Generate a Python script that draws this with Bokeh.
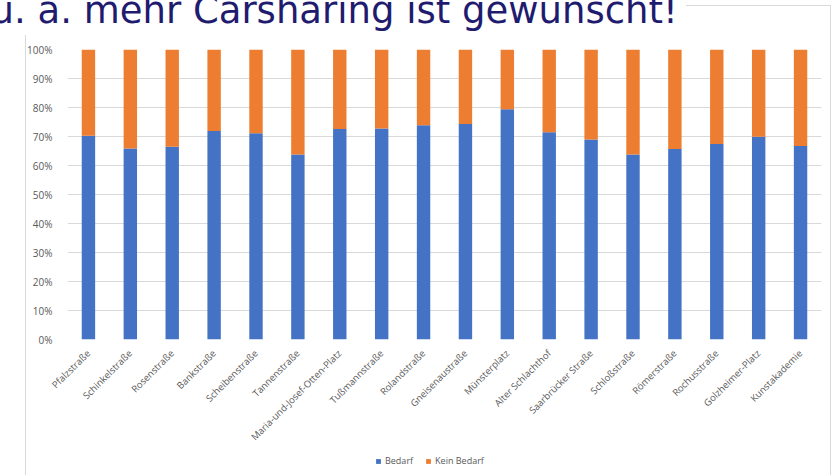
import math
from bokeh.plotting import figure
from bokeh.layouts import column
from bokeh.models import (ColumnDataSource, Legend, LegendItem, Title,
                          PrintfTickFormatter, FixedTicker)
from bokeh.embed import file_html
from bokeh.resources import INLINE

title_text = "u. a. mehr Carsharing ist gewünscht!"

categories = ["Pfalzstraße", "Schinkelstraße", "Rosenstraße", "Bankstraße",
              "Scheibenstraße", "Tannenstraße", "Maria-und-Josef-Otten-Platz",
              "Tußmannstraße", "Rolandstraße", "Gneisenaustraße", "Münsterplatz",
              "Alter Schlachthof", "Saarbrücker Straße", "Schloßstraße",
              "Römerstraße", "Rochusstraße", "Golzheimer-Platz", "Kunstakademie"]

bedarf = [70.3, 65.9, 66.5, 71.9, 71.1, 63.8, 72.6, 72.8, 73.9,
          74.3, 79.4, 71.5, 69.0, 63.8, 65.7, 67.4, 69.9, 66.7]
kein_bedarf = [29.7, 34.1, 33.5, 28.1, 28.9, 36.2, 27.4, 27.2, 26.1,
               25.7, 20.6, 28.5, 31.0, 36.2, 34.3, 32.6, 30.1, 33.3]

series_names = ["Bedarf", "Kein Bedarf"]
y_ticks = [0, 10, 20, 30, 40, 50, 60, 70, 80, 90, 100]

BLUE = "#4472C4"
ORANGE = "#ED7D31"
GRAY_TXT = "#595959"
GRID = "#D9D9D9"
FONT = "Open Sans"

K = 50  # canvas starts K px above the window so the title is cut at the top

src = ColumnDataSource(dict(cat=categories, bedarf=bedarf, kein=kein_bedarf))
line = "linear-gradient(#D9D9D9,#D9D9D9)"

# ---------------- main chart ----------------
p = figure(x_range=categories, y_range=(0, 100), width=836, height=455 + K,
           output_backend="svg", toolbar_location=None,
           min_border_left=67, min_border_right=15, min_border_top=49 + K,
           min_border_bottom=116)
p.outline_line_color = None
p.background_fill_color = "white"
p.border_fill_color = None
p.styles = {"position": "relative", "top": f"-{K}px",
            "background": (f"{line} 25px {35 + K}px / 1px 600px no-repeat, "
                           f"{line} 830px {5 + K}px / 1px 600px no-repeat, "
                           f"{line} 686px {5 + K}px / 145px 1px no-repeat, white")}

p.title = Title(text=title_text, align="left", offset=-77, vertical_align="bottom",
                standoff=35, text_font="DejaVu Sans", text_font_size="37px",
                text_font_style="normal", text_color="#1F1C6F")

p.vbar_stack(["bedarf", "kein"], x="cat", width=0.32, color=[BLUE, ORANGE],
             line_color=None, source=src)

p.xgrid.grid_line_color = None
p.ygrid.grid_line_color = GRID

p.yaxis.ticker = FixedTicker(ticks=y_ticks)
p.yaxis.formatter = PrintfTickFormatter(format="%d%%")
p.yaxis.axis_line_color = None
p.yaxis.major_tick_line_color = None
p.yaxis.minor_tick_line_color = None
p.yaxis.major_label_text_font = FONT
p.yaxis.major_label_text_font_size = "10px"
p.yaxis.major_label_text_color = GRAY_TXT
p.yaxis.major_label_standoff = 9

p.xaxis.axis_line_color = None
p.xaxis.major_tick_line_color = None
p.xaxis.minor_tick_line_color = None
p.xaxis.major_label_orientation = math.pi / 4
p.xaxis.major_label_text_font = FONT
p.xaxis.major_label_text_font_size = "9.5px"
p.xaxis.major_label_text_color = GRAY_TXT
p.xaxis.major_label_standoff = 6

# ---------------- legend strip ----------------
p2 = figure(x_range=categories, y_range=(200, 300), width=836, height=20,
            output_backend="svg", toolbar_location=None,
            x_axis_location=None, y_axis_location=None,
            min_border=0, min_border_left=0, min_border_right=0,
            min_border_top=0, min_border_bottom=0)
p2.outline_line_color = None
p2.background_fill_color = None
p2.border_fill_color = None
p2.grid.visible = False
p2.styles = {"position": "relative", "top": f"-{K}px",
             "background": (f"{line} 25px 0px / 1px 100% no-repeat, "
                            f"{line} 830px 0px / 1px 100% no-repeat, white")}

rs2 = p2.vbar_stack(["bedarf", "kein"], x="cat", width=0.32, color=[BLUE, ORANGE],
                    line_color=None, source=src)

legend = Legend(items=[LegendItem(label=series_names[0], renderers=[rs2[0]]),
                       LegendItem(label=series_names[1], renderers=[rs2[1]])],
                orientation="horizontal", location=(308, 8),
                glyph_width=6, glyph_height=6, label_height=10, label_standoff=4,
                spacing=12, padding=0, margin=0,
                border_line_color=None, background_fill_alpha=0,
                label_text_font=FONT, label_text_font_size="9px",
                label_text_color=GRAY_TXT)
p2.add_layout(legend)

layout = column(p, p2, spacing=0)
open("out.html", "w").write(file_html(layout, INLINE))
